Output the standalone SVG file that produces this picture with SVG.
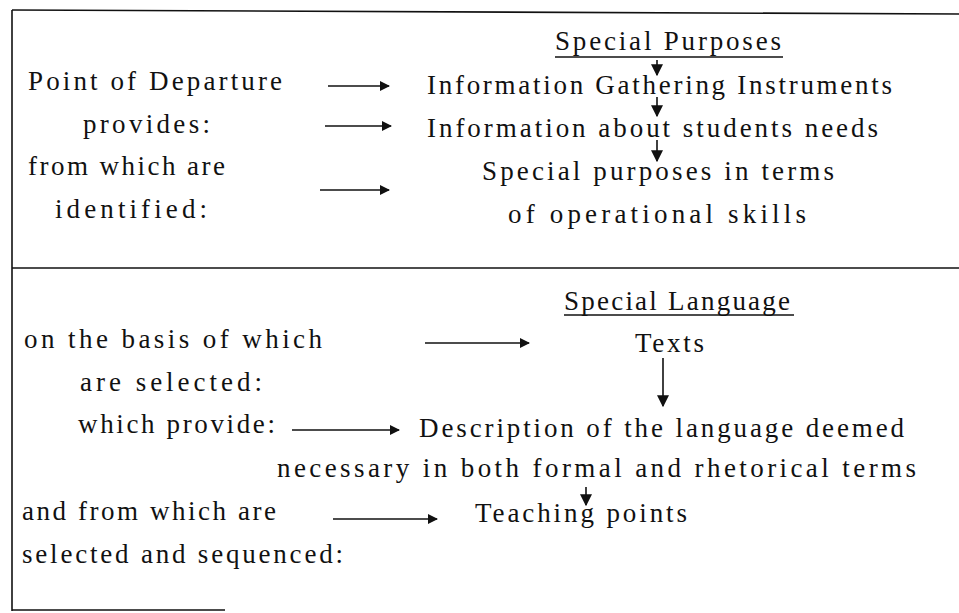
<svg xmlns="http://www.w3.org/2000/svg" width="959" height="613" viewBox="0 0 959 613">
<defs>
<style>
text{font-family:"Liberation Serif","DejaVu Serif",serif;font-size:27px;fill:#111}
.frame{stroke:#111;stroke-width:1.6;fill:none}
.conn line{stroke:#111;stroke-width:1.6}
.ul{stroke:#111;stroke-width:1.4}
</style>
<marker id="ah" viewBox="0 0 10 10" refX="9" refY="5" markerWidth="11" markerHeight="10" markerUnits="userSpaceOnUse" orient="auto">
<path d="M0,0 L10,5 L0,10 Z" fill="#111"/>
</marker>
<marker id="ahb" viewBox="0 0 10 10" refX="9" refY="5" markerWidth="12" markerHeight="13" markerUnits="userSpaceOnUse" orient="auto">
<path d="M0,0 L10,5 L0,10 Z" fill="#111"/>
</marker>
</defs>
<rect width="959" height="613" fill="#fff"/>
<g id="frame" class="frame">
<line x1="12" y1="10" x2="959" y2="14"/>
<line x1="12" y1="10" x2="12" y2="611"/>
<line x1="12" y1="268" x2="959" y2="268"/>
<line x1="12" y1="610" x2="225" y2="610"/>
</g>
<g id="sp-title"><text x="555" y="50" textLength="226">Special Purposes</text><line class="ul" x1="555" y1="57" x2="783" y2="57"/></g>
<g id="l-point"><text x="28" y="90" textLength="254">Point of Departure</text></g>
<g id="l-provides"><text x="83" y="133" textLength="127">provides:</text></g>
<g id="l-from"><text x="28" y="175" textLength="197">from which are</text></g>
<g id="l-identified"><text x="55" y="218" textLength="152">identified:</text></g>
<g id="n-instruments"><text x="427" y="94" textLength="465">Information Gathering Instruments</text></g>
<g id="n-info"><text x="427" y="137" textLength="451">Information about students needs</text></g>
<g id="n-purposes"><text x="482" y="180" textLength="352">Special purposes in terms</text><text x="508" y="223" textLength="298">of operational skills</text></g>
<g id="sl-title"><text x="564" y="310" textLength="226">Special Language</text><line class="ul" x1="564" y1="315" x2="794" y2="315"/></g>
<g id="l-basis"><text x="24" y="348" textLength="298">on the basis of which</text></g>
<g id="l-selected"><text x="80" y="391" textLength="182">are selected:</text></g>
<g id="l-provide"><text x="78" y="433" textLength="197">which provide:</text></g>
<g id="l-andfrom"><text x="22" y="520" textLength="254">and from which are</text></g>
<g id="l-seq"><text x="22" y="563" textLength="321">selected and sequenced:</text></g>
<g id="n-texts"><text x="635" y="352" textLength="69">Texts</text></g>
<g id="n-desc"><text x="419" y="437" textLength="485">Description of the language deemed</text><text x="277" y="477" textLength="639">necessary in both formal and rhetorical terms</text></g>
<g id="n-teaching"><text x="475" y="522" textLength="212">Teaching points</text></g>
<g id="connectors" class="conn">
<line x1="328" y1="86" x2="389" y2="86" marker-end="url(#ah)"/>
<line x1="325" y1="126" x2="391" y2="126" marker-end="url(#ah)"/>
<line x1="320" y1="190" x2="389" y2="190" marker-end="url(#ah)"/>
<line x1="657" y1="60" x2="657" y2="75" marker-end="url(#ahb)"/>
<line x1="657" y1="97" x2="657" y2="116" marker-end="url(#ahb)"/>
<line x1="657" y1="140" x2="657" y2="161" marker-end="url(#ahb)"/>
<line x1="425" y1="343" x2="529" y2="343" marker-end="url(#ah)"/>
<line x1="663" y1="358" x2="663" y2="406" marker-end="url(#ahb)"/>
<line x1="292" y1="430" x2="399" y2="430" marker-end="url(#ah)"/>
<line x1="586" y1="487" x2="586" y2="505" marker-end="url(#ahb)"/>
<line x1="333" y1="519" x2="437" y2="519" marker-end="url(#ah)"/>
</g>
</svg>
